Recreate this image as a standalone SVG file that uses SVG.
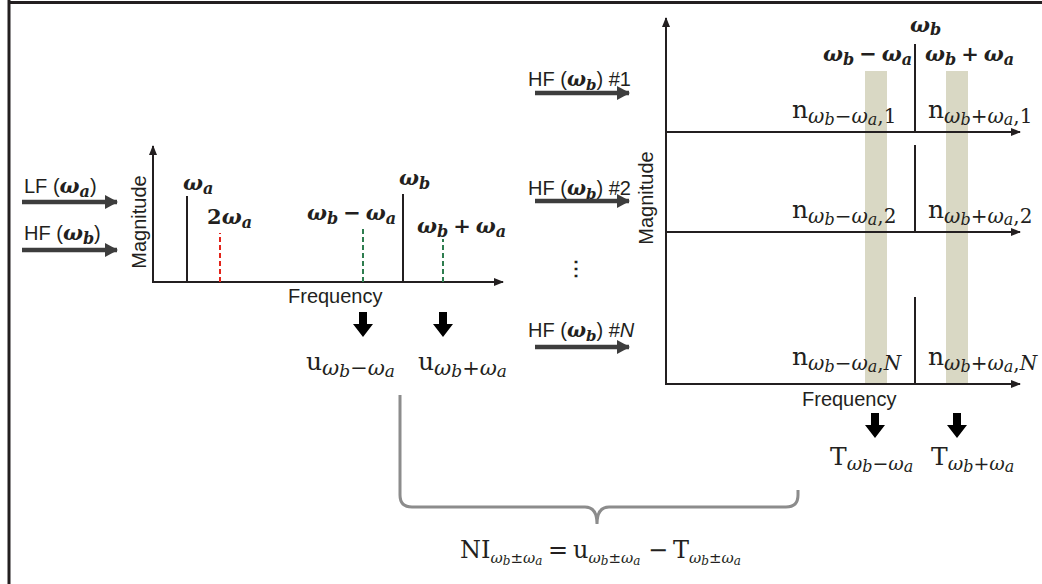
<svg xmlns="http://www.w3.org/2000/svg" width="1042" height="584" viewBox="0 0 1042 584">
<style>
.ax{stroke:#231f20;stroke-width:2;fill:none}
.pk{stroke:#231f20;stroke-width:2}
.in{stroke:#3d3d3d;stroke-width:4.5}
.sans{font-family:"Liberation Sans",Arial,sans-serif;font-size:20px;fill:#231f20}
.m{font-family:"DejaVu Serif","Liberation Serif",serif;fill:#231f20}
.bi{font-weight:bold;font-style:italic}
.it{font-style:italic}
.up{font-style:normal}
.band{fill:#d9d8c4}
</style>
<defs>
<marker id="ah" markerUnits="userSpaceOnUse" markerWidth="13" markerHeight="14" refX="12" refY="7" orient="auto">
<path d="M0,0 L13,7 L0,14 Z" fill="#3d3d3d"/>
</marker>
<marker id="axh" markerUnits="userSpaceOnUse" markerWidth="10" markerHeight="8" refX="9" refY="4" orient="auto">
<path d="M0,0 L10,4 L0,8 Z" fill="#231f20"/>
</marker>
<path id="down" d="M-4,0 H4 V12 H10 L0,25 L-10,12 H-4 Z" fill="#000"/>
</defs>
<g id="frame">
<line x1="9" y1="0" x2="9" y2="584" stroke="#231f20" stroke-width="3"/>
<line x1="8" y1="2.5" x2="1042" y2="2.5" stroke="#231f20" stroke-width="3"/>
</g>
<g id="bands">
<rect class="band" x="865" y="71" width="22" height="313"/>
<rect class="band" x="946" y="71" width="22" height="313"/>
</g>
<g id="connectors">
<line class="in" x1="22" y1="202" x2="117" y2="202" marker-end="url(#ah)"/>
<line class="in" x1="22" y1="250" x2="117" y2="250" marker-end="url(#ah)"/>
<line class="in" x1="535" y1="93" x2="629" y2="93" marker-end="url(#ah)"/>
<line class="in" x1="535" y1="201" x2="629" y2="201" marker-end="url(#ah)"/>
<line class="in" x1="535" y1="347" x2="629" y2="347" marker-end="url(#ah)"/>
<use href="#down" x="363" y="312"/>
<use href="#down" x="443" y="312"/>
<use href="#down" x="875" y="413"/>
<use href="#down" x="957" y="413"/>
<path d="M400,395 V495 Q400,507 412,507 H585 Q597,507 597,524 Q597,507 609,507 H786 Q798,507 798,495 V490" fill="none" stroke="#8c8c8c" stroke-width="3"/>
</g>
<g id="left-chart">
<line class="ax" x1="153" y1="282" x2="153" y2="146" marker-end="url(#axh)"/>
<line class="ax" x1="152" y1="282" x2="503" y2="282" marker-end="url(#axh)"/>
<line class="pk" x1="187" y1="282" x2="187" y2="196"/>
<line x1="220" y1="282" x2="220" y2="233" stroke="#e2231a" stroke-width="2" stroke-dasharray="5,3"/>
<line x1="363" y1="282" x2="363" y2="226" stroke="#2e7d4f" stroke-width="2" stroke-dasharray="5,3"/>
<line class="pk" x1="403" y1="282" x2="403" y2="194"/>
<line x1="443" y1="282" x2="443" y2="239" stroke="#2e7d4f" stroke-width="2" stroke-dasharray="5,3"/>
<text class="sans" transform="translate(146,222) rotate(-90)" text-anchor="middle">Magnitude</text>
<text class="sans" x="288" y="303">Frequency</text>
<text class="m bi" x="183" y="190" font-size="21">ω<tspan font-size="16" dy="4">a</tspan></text>
<text class="m bi" x="207" y="224" font-size="21"><tspan class="up">2</tspan>ω<tspan font-size="16" dy="4">a</tspan></text>
<text class="m bi" x="307" y="220" font-size="21">ω<tspan font-size="16" dy="4">b</tspan><tspan class="up" dy="-4" dx="5">−</tspan><tspan dx="5">ω</tspan><tspan font-size="16" dy="4">a</tspan></text>
<text class="m bi" x="399" y="185" font-size="21">ω<tspan font-size="16" dy="4">b</tspan></text>
<text class="m bi" x="417" y="233" font-size="21">ω<tspan font-size="16" dy="4">b</tspan><tspan class="up" dy="-4" dx="5">+</tspan><tspan dx="5">ω</tspan><tspan font-size="16" dy="4">a</tspan></text>
</g>
<g id="inputs">
<text class="sans" x="24" y="193">LF (<tspan class="m bi" font-size="21">ω<tspan font-size="16" dy="4">a</tspan></tspan><tspan dy="-4">)</tspan></text>
<text class="sans" x="24" y="240">HF (<tspan class="m bi" font-size="21">ω<tspan font-size="16" dy="4">b</tspan></tspan><tspan dy="-4">)</tspan></text>
<text class="sans" x="528" y="86">HF (<tspan class="m bi">ω<tspan font-size="15" dy="4">b</tspan></tspan><tspan dy="-4">) #1</tspan></text>
<text class="sans" x="528" y="195">HF (<tspan class="m bi">ω<tspan font-size="15" dy="4">b</tspan></tspan><tspan dy="-4">) #2</tspan></text>
<text class="sans" x="528" y="337">HF (<tspan class="m bi">ω<tspan font-size="15" dy="4">b</tspan></tspan><tspan dy="-4">) #<tspan font-style="italic">N</tspan></tspan></text>
<text class="sans" x="576" y="275" text-anchor="middle" font-size="24" font-weight="bold">⋮</text>
</g>
<g id="u-labels">
<text class="m" x="306" y="370" font-size="25">u<tspan class="it" font-size="21" dy="5">ω<tspan font-size="17" dy="2">b</tspan><tspan class="up" dy="-2">−</tspan>ω<tspan font-size="17" dy="2">a</tspan></tspan></text>
<text class="m" x="418" y="370" font-size="25">u<tspan class="it" font-size="21" dy="5">ω<tspan font-size="17" dy="2">b</tspan><tspan class="up" dy="-2">+</tspan>ω<tspan font-size="17" dy="2">a</tspan></tspan></text>
</g>
<g id="right-chart">
<line class="ax" x1="666" y1="385" x2="666" y2="18" marker-end="url(#axh)"/>
<line class="ax" x1="666" y1="132" x2="1020" y2="132" marker-end="url(#axh)"/>
<line class="ax" x1="666" y1="232" x2="1020" y2="232" marker-end="url(#axh)"/>
<line class="ax" x1="665" y1="384" x2="1020" y2="384" marker-end="url(#axh)"/>
<line class="pk" x1="915" y1="132" x2="915" y2="44"/>
<line class="pk" x1="915" y1="232" x2="915" y2="145"/>
<line class="pk" x1="915" y1="384" x2="915" y2="297"/>
<text class="sans" transform="translate(653,198) rotate(-90)" text-anchor="middle">Magnitude</text>
<text class="sans" x="802" y="406">Frequency</text>
<text class="m bi" x="910" y="32" font-size="21">ω<tspan font-size="16" dy="3">b</tspan></text>
<text class="m bi" x="823" y="61" font-size="21">ω<tspan font-size="16" dy="4">b</tspan><tspan class="up" dy="-4" dx="5">−</tspan><tspan dx="5">ω</tspan><tspan font-size="16" dy="4">a</tspan></text>
<text class="m bi" x="925" y="61" font-size="21">ω<tspan font-size="16" dy="4">b</tspan><tspan class="up" dy="-4" dx="5">+</tspan><tspan dx="5">ω</tspan><tspan font-size="16" dy="4">a</tspan></text>
</g>
<g id="n-labels">
<text class="m" x="792" y="118" font-size="25">n<tspan class="it" font-size="20" dy="5">ω<tspan font-size="16" dy="2">b</tspan><tspan class="up" dy="-2">−</tspan>ω<tspan font-size="16" dy="2">a</tspan><tspan class="up" dy="-2">,1</tspan></tspan></text>
<text class="m" x="928" y="118" font-size="25">n<tspan class="it" font-size="20" dy="5">ω<tspan font-size="16" dy="2">b</tspan><tspan class="up" dy="-2">+</tspan>ω<tspan font-size="16" dy="2">a</tspan><tspan class="up" dy="-2">,1</tspan></tspan></text>
<text class="m" x="792" y="218" font-size="25">n<tspan class="it" font-size="20" dy="5">ω<tspan font-size="16" dy="2">b</tspan><tspan class="up" dy="-2">−</tspan>ω<tspan font-size="16" dy="2">a</tspan><tspan class="up" dy="-2">,2</tspan></tspan></text>
<text class="m" x="928" y="218" font-size="25">n<tspan class="it" font-size="20" dy="5">ω<tspan font-size="16" dy="2">b</tspan><tspan class="up" dy="-2">+</tspan>ω<tspan font-size="16" dy="2">a</tspan><tspan class="up" dy="-2">,2</tspan></tspan></text>
<text class="m" x="792" y="365" font-size="25">n<tspan class="it" font-size="20" dy="5">ω<tspan font-size="16" dy="2">b</tspan><tspan class="up" dy="-2">−</tspan>ω<tspan font-size="16" dy="2">a</tspan><tspan class="up" dy="-2">,</tspan>N</tspan></text>
<text class="m" x="928" y="365" font-size="25">n<tspan class="it" font-size="20" dy="5">ω<tspan font-size="16" dy="2">b</tspan><tspan class="up" dy="-2">+</tspan>ω<tspan font-size="16" dy="2">a</tspan><tspan class="up" dy="-2">,</tspan>N</tspan></text>
</g>
<g id="t-labels">
<text class="m" x="830" y="465" font-size="25">T<tspan class="it" font-size="19" dy="5">ω<tspan font-size="16" dy="2">b</tspan><tspan class="up" dy="-2">−</tspan>ω<tspan font-size="16" dy="2">a</tspan></tspan></text>
<text class="m" x="931" y="465" font-size="25">T<tspan class="it" font-size="19" dy="5">ω<tspan font-size="16" dy="2">b</tspan><tspan class="up" dy="-2">+</tspan>ω<tspan font-size="16" dy="2">a</tspan></tspan></text>
</g>
<g id="formula">
<text class="m" y="558" font-size="24"><tspan x="460">NI</tspan><tspan class="it" font-size="15" dy="5">ω<tspan font-size="12" dy="2">b</tspan><tspan class="up" dy="-2">±</tspan>ω<tspan font-size="12" dy="2">a</tspan></tspan><tspan x="548" dy="-7">=</tspan><tspan x="573">u</tspan><tspan class="it" font-size="15" dy="5">ω<tspan font-size="12" dy="2">b</tspan><tspan class="up" dy="-2">±</tspan>ω<tspan font-size="12" dy="2">a</tspan></tspan><tspan x="648" dy="-7">−</tspan><tspan x="673">T</tspan><tspan class="it" font-size="15" dy="5">ω<tspan font-size="12" dy="2">b</tspan><tspan class="up" dy="-2">±</tspan>ω<tspan font-size="12" dy="2">a</tspan></tspan></text>
</g>
</svg>
